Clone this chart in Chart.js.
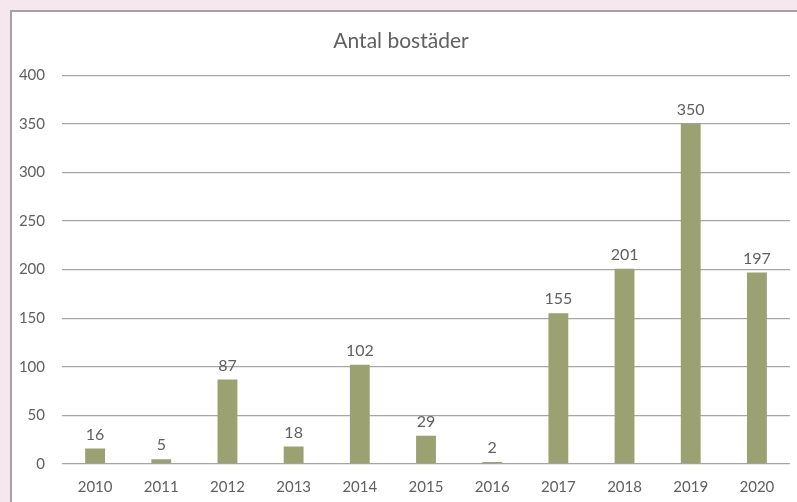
<!DOCTYPE html>
<html>
<head>
<meta charset="utf-8">
<script src="https://cdn.jsdelivr.net/npm/chart.js@4/dist/chart.umd.min.js"></script>
<style>
  html, body { margin: 0; padding: 0; background: #f6e6ee; overflow: hidden; }
  #box {
    position: absolute; left: 10px; top: 10px; width: 800px; height: 500px;
    background: #fff; border-left: 2px solid #a3a3a3; border-top: 2px solid #a3a3a3;
  }
  #wrap { position: absolute; left: 0; top: 0; width: 785px; height: 490px; }
</style>
</head>
<body>
<div id="box"><div id="wrap"><canvas id="chart"></canvas></div></div>
<script>
/* ===== DATA ===== */
const years = ["2010", "2011", "2012", "2013", "2014", "2015", "2016", "2017", "2018", "2019", "2020"];
const bostader = [16, 5, 87, 18, 102, 29, 2, 155, 201, 350, 197];

const TEXT = "#606060";
const FONT = "Lato";

/* value labels above bars */
const barLabels = {
  id: "barLabels",
  afterDatasetsDraw(chart) {
    const ctx = chart.ctx;
    const meta = chart.getDatasetMeta(0);
    ctx.save();
    ctx.fillStyle = TEXT;
    ctx.font = "16px " + FONT;
    ctx.textAlign = "center";
    ctx.textBaseline = "bottom";
    meta.data.forEach((bar, i) => {
      ctx.fillText(String(bostader[i]), bar.x, bar.y - 6);
    });
    ctx.restore();
  }
};

new Chart(document.getElementById("chart"), {
  type: "bar",
  data: {
    labels: years,
    datasets: [{
      data: bostader,
      backgroundColor: "#9ca172",
      categoryPercentage: 1,
      barPercentage: 0.3
    }]
  },
  options: {
    responsive: true,
    maintainAspectRatio: false,
    animation: false,
    layout: { padding: { left: 0, right: 7, top: 0, bottom: 0 } },
    plugins: {
      legend: { display: false },
      tooltip: { enabled: false },
      title: {
        display: true,
        text: "Antal bostäder",
        color: TEXT,
        font: { family: FONT, size: 21, weight: "normal" },
        padding: { top: 17, bottom: 21 }
      }
    },
    scales: {
      x: {
        grid: { display: false },
        border: { display: false },
        ticks: { color: TEXT, font: { family: FONT, size: 15 }, padding: 6, maxRotation: 0 },
        afterFit(scale) { scale.height = 38; }
      },
      y: {
        min: 0,
        max: 400,
        ticks: { stepSize: 50, color: TEXT, font: { family: FONT, size: 15 }, padding: 17 },
        grid: { color: "#a6a6a6", lineWidth: 1.3, drawTicks: false },
        border: { display: false },
        afterFit(scale) { scale.width = 50; }
      }
    }
  },
  plugins: [barLabels]
});
</script>
</body>
</html>
